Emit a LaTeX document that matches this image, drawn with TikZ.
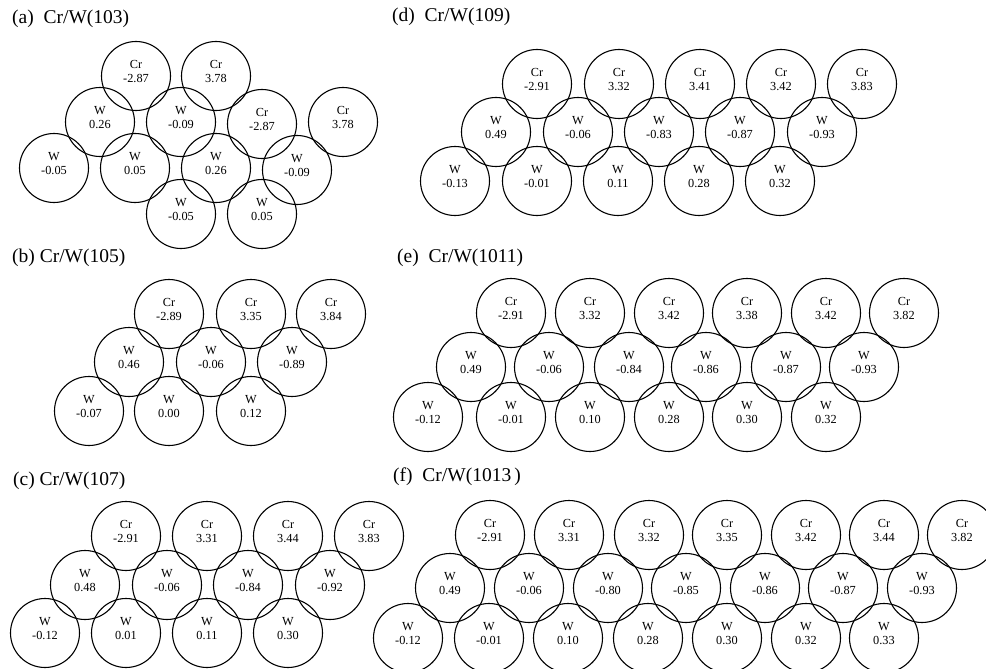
\documentclass[tikz,border=0pt]{standalone}
\usepackage{fontspec}
\setmainfont{Liberation Serif}

\begin{document}
\begin{tikzpicture}[x=1pt, y=-1pt,
    atom/.style={circle, draw, line width=1.1pt, minimum size=69pt, inner sep=0pt},
    val/.style={align=center, inner sep=0pt, yshift=4.5pt, font=\fontsize{12.3}{14.4}\selectfont},
    panel/.style={anchor=west, inner sep=0pt, font=\fontsize{19.5}{23}\selectfont}]

  \useasboundingbox (0,0) rectangle (986,669);

  % --- (a) Cr/W(103) ---
  \node[panel] (lab-a) at (12,19) {(a)\ \ Cr/W(103)};
  \node[atom, label={[val]center:Cr\\-2.87}] (a-1-1) at (136,76) {};
  \node[atom, label={[val]center:Cr\\3.78}]  (a-1-2) at (216,76) {};
  \node[atom, label={[val]center:W\\0.26}]   (a-2-1) at (100,122) {};
  \node[atom, label={[val]center:W\\-0.09}]  (a-2-2) at (181,122) {};
  \node[atom, label={[val]center:Cr\\-2.87}] (a-2-3) at (262,124) {};
  \node[atom, label={[val]center:Cr\\3.78}]  (a-2-4) at (343,122) {};
  \node[atom, label={[val]center:W\\-0.05}]  (a-3-1) at (54,168) {};
  \node[atom, label={[val]center:W\\0.05}]   (a-3-2) at (135,168) {};
  \node[atom, label={[val]center:W\\0.26}]   (a-3-3) at (216,168) {};
  \node[atom, label={[val]center:W\\-0.09}]  (a-3-4) at (297,170) {};
  \node[atom, label={[val]center:W\\-0.05}]  (a-4-1) at (181,214) {};
  \node[atom, label={[val]center:W\\0.05}]   (a-4-2) at (262,214) {};

  % --- (b) Cr/W(105) ---
  \node[panel] (lab-b) at (12,258) {(b) Cr/W(105)};
  \node[atom, label={[val]center:Cr\\-2.89}] (b-1-1) at (169,314) {};
  \node[atom, label={[val]center:Cr\\3.35}]  (b-1-2) at (251,314) {};
  \node[atom, label={[val]center:Cr\\3.84}]  (b-1-3) at (331,314) {};
  \node[atom, label={[val]center:W\\0.46}]   (b-2-1) at (129,362) {};
  \node[atom, label={[val]center:W\\-0.06}]  (b-2-2) at (211,362) {};
  \node[atom, label={[val]center:W\\-0.89}]  (b-2-3) at (292,362) {};
  \node[atom, label={[val]center:W\\-0.07}]  (b-3-1) at (89,411) {};
  \node[atom, label={[val]center:W\\0.00}]   (b-3-2) at (169,411) {};
  \node[atom, label={[val]center:W\\0.12}]   (b-3-3) at (251,411) {};

  % --- (c) Cr/W(107) ---
  \node[panel] (lab-c) at (13,481) {(c) Cr/W(107)};
  \node[atom, label={[val]center:Cr\\-2.91}] (c-1-1) at (126,536) {};
  \node[atom, label={[val]center:Cr\\3.31}]  (c-1-2) at (207,536) {};
  \node[atom, label={[val]center:Cr\\3.44}]  (c-1-3) at (288,536) {};
  \node[atom, label={[val]center:Cr\\3.83}]  (c-1-4) at (369,536) {};
  \node[atom, label={[val]center:W\\0.48}]   (c-2-1) at (85,585) {};
  \node[atom, label={[val]center:W\\-0.06}]  (c-2-2) at (167,585) {};
  \node[atom, label={[val]center:W\\-0.84}]  (c-2-3) at (248,585) {};
  \node[atom, label={[val]center:W\\-0.92}]  (c-2-4) at (330,585) {};
  \node[atom, label={[val]center:W\\-0.12}]  (c-3-1) at (45,633) {};
  \node[atom, label={[val]center:W\\0.01}]   (c-3-2) at (126,633) {};
  \node[atom, label={[val]center:W\\0.11}]   (c-3-3) at (207,633) {};
  \node[atom, label={[val]center:W\\0.30}]   (c-3-4) at (288,633) {};

  % --- (d) Cr/W(109) ---
  \node[panel] (lab-d) at (392,17) {(d)\ \ Cr/W(109)};
  \node[atom, label={[val]center:Cr\\-2.91}] (d-1-1) at (537,84) {};
  \node[atom, label={[val]center:Cr\\3.32}]  (d-1-2) at (619,84) {};
  \node[atom, label={[val]center:Cr\\3.41}]  (d-1-3) at (700,84) {};
  \node[atom, label={[val]center:Cr\\3.42}]  (d-1-4) at (781,84) {};
  \node[atom, label={[val]center:Cr\\3.83}]  (d-1-5) at (862,84) {};
  \node[atom, label={[val]center:W\\0.49}]   (d-2-1) at (496,132) {};
  \node[atom, label={[val]center:W\\-0.06}]  (d-2-2) at (578,132) {};
  \node[atom, label={[val]center:W\\-0.83}]  (d-2-3) at (659,132) {};
  \node[atom, label={[val]center:W\\-0.87}]  (d-2-4) at (740,132) {};
  \node[atom, label={[val]center:W\\-0.93}]  (d-2-5) at (822,132) {};
  \node[atom, label={[val]center:W\\-0.13}]  (d-3-1) at (455,181) {};
  \node[atom, label={[val]center:W\\-0.01}]  (d-3-2) at (537,181) {};
  \node[atom, label={[val]center:W\\0.11}]   (d-3-3) at (618,181) {};
  \node[atom, label={[val]center:W\\0.28}]   (d-3-4) at (699,181) {};
  \node[atom, label={[val]center:W\\0.32}]   (d-3-5) at (780,181) {};

  % --- (e) Cr/W(1011) ---
  \node[panel] (lab-e) at (397,258) {(e)\ \ Cr/W(1011)};
  \node[atom, label={[val]center:Cr\\-2.91}] (e-1-1) at (511,313) {};
  \node[atom, label={[val]center:Cr\\3.32}]  (e-1-2) at (590,313) {};
  \node[atom, label={[val]center:Cr\\3.42}]  (e-1-3) at (669,313) {};
  \node[atom, label={[val]center:Cr\\3.38}]  (e-1-4) at (747,313) {};
  \node[atom, label={[val]center:Cr\\3.42}]  (e-1-5) at (826,313) {};
  \node[atom, label={[val]center:Cr\\3.82}]  (e-1-6) at (904,313) {};
  \node[atom, label={[val]center:W\\0.49}]   (e-2-1) at (471,367) {};
  \node[atom, label={[val]center:W\\-0.06}]  (e-2-2) at (549,367) {};
  \node[atom, label={[val]center:W\\-0.84}]  (e-2-3) at (629,367) {};
  \node[atom, label={[val]center:W\\-0.86}]  (e-2-4) at (706,367) {};
  \node[atom, label={[val]center:W\\-0.87}]  (e-2-5) at (786,367) {};
  \node[atom, label={[val]center:W\\-0.93}]  (e-2-6) at (864,367) {};
  \node[atom, label={[val]center:W\\-0.12}]  (e-3-1) at (428,417) {};
  \node[atom, label={[val]center:W\\-0.01}]  (e-3-2) at (511,417) {};
  \node[atom, label={[val]center:W\\0.10}]   (e-3-3) at (590,417) {};
  \node[atom, label={[val]center:W\\0.28}]   (e-3-4) at (669,417) {};
  \node[atom, label={[val]center:W\\0.30}]   (e-3-5) at (747,417) {};
  \node[atom, label={[val]center:W\\0.32}]   (e-3-6) at (826,417) {};

  % --- (f) Cr/W(1013) ---
  \node[panel] (lab-f) at (393,477) {(f)\ \ Cr/W(1013\,)};
  \node[atom, label={[val]center:Cr\\-2.91}] (f-1-1) at (490,535) {};
  \node[atom, label={[val]center:Cr\\3.31}]  (f-1-2) at (569,535) {};
  \node[atom, label={[val]center:Cr\\3.32}]  (f-1-3) at (649,535) {};
  \node[atom, label={[val]center:Cr\\3.35}]  (f-1-4) at (727,535) {};
  \node[atom, label={[val]center:Cr\\3.42}]  (f-1-5) at (806,535) {};
  \node[atom, label={[val]center:Cr\\3.44}]  (f-1-6) at (884,535) {};
  \node[atom, label={[val]center:Cr\\3.82}]  (f-1-7) at (962,535) {};
  \node[atom, label={[val]center:W\\0.49}]   (f-2-1) at (450,588) {};
  \node[atom, label={[val]center:W\\-0.06}]  (f-2-2) at (529,588) {};
  \node[atom, label={[val]center:W\\-0.80}]  (f-2-3) at (608,588) {};
  \node[atom, label={[val]center:W\\-0.85}]  (f-2-4) at (686,588) {};
  \node[atom, label={[val]center:W\\-0.86}]  (f-2-5) at (765,588) {};
  \node[atom, label={[val]center:W\\-0.87}]  (f-2-6) at (843,588) {};
  \node[atom, label={[val]center:W\\-0.93}]  (f-2-7) at (922,588) {};
  \node[atom, label={[val]center:W\\-0.12}]  (f-3-1) at (408,638) {};
  \node[atom, label={[val]center:W\\-0.01}]  (f-3-2) at (489,638) {};
  \node[atom, label={[val]center:W\\0.10}]   (f-3-3) at (568,638) {};
  \node[atom, label={[val]center:W\\0.28}]   (f-3-4) at (648,638) {};
  \node[atom, label={[val]center:W\\0.30}]   (f-3-5) at (727,638) {};
  \node[atom, label={[val]center:W\\0.32}]   (f-3-6) at (806,638) {};
  \node[atom, label={[val]center:W\\0.33}]   (f-3-7) at (884,638) {};

\end{tikzpicture}
\end{document}
